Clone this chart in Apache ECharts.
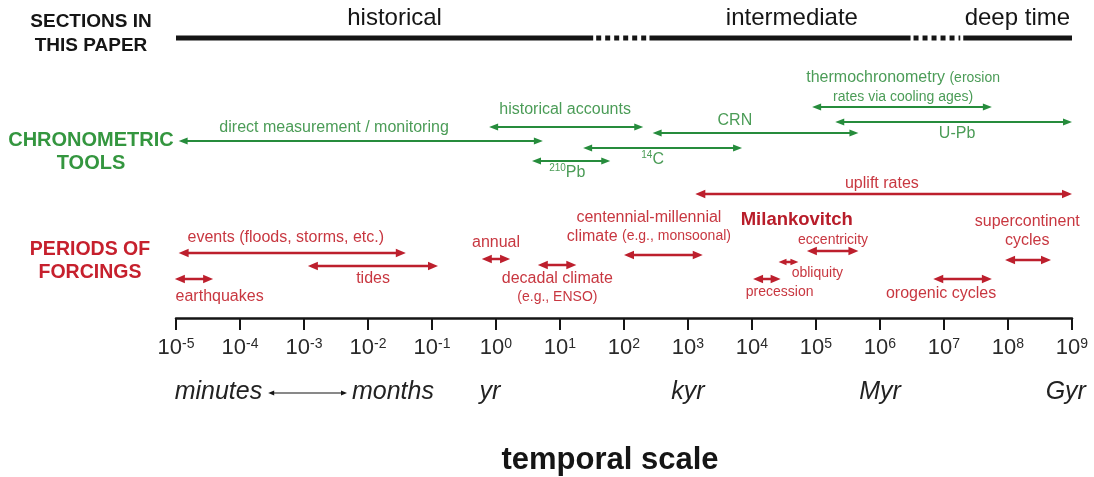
<!DOCTYPE html>
<html>
<head>
<meta charset="utf-8">
<title>temporal scale</title>
<script src="https://cdn.jsdelivr.net/npm/echarts@6.0.0/dist/echarts.min.js"></script>
<style>
  html, body { margin: 0; padding: 0; background: #fff; }
  #chart { width: 1094px; height: 477px; }
</style>
</head>
<body>
<div id="chart"></div>
<script>
// time spans in years, rows are vertical levels of the diagram (0 = top, 318 = time axis)
var sectionNames = ['historical', 'intermediate', 'deep time'];
var sectionStart = [1e-5, 250, 2e7];
var sectionEnd = [33, 3e6, 1e9];
var sectionLabelAt = [0.026, 4.2e4, 1.4e8];
var sectionGapStart = [33, 3e6];
var sectionGapEnd = [250, 2e7];
var sectionRow = 38;
var sectionLabelRow = 18;

var toolNames = ['direct measurement / monitoring', 'historical accounts', 'CRN', '{sup|14}C', '{sup|210}Pb',
  'thermochronometry {sm|(erosion}\n{sm|rates via cooling ages)}', 'U-Pb'];
var toolStart = [1.1e-5, 0.78, 280, 23, 3.65, 8.7e4, 2e5];
var toolEnd = [5.4, 200, 4.6e5, 7000, 61, 5.6e7, 1e9];
var toolRow = [141, 127, 133, 148, 161, 107, 122];
var toolLabelAt = [2.95e-3, 12, 5400, 280, 13, 2.3e6, 1.6e7];
var toolLabelRow = [128, 110, 121, 160, 173, 87.5, 134];

var forcingNames = ['uplift rates', 'events (floods, storms, etc.)', 'tides', 'earthquakes', 'annual',
  'decadal climate\n{sm|(e.g., ENSO)}', 'centennial-millennial\nclimate {sm|(e.g., monsoonal)}',
  '{sm|precession}', '{sm|obliquity}', '{sm|eccentricity}', 'orogenic cycles', 'supercontinent\ncycles'];
var forcingStart = [1300, 1.1e-5, 1.15e-3, 9.6e-6, 0.6, 4.5, 100, 1.04e4, 2.6e4, 7.2e4, 6.8e6, 9e7];
var forcingEnd = [1e9, 0.039, 0.124, 3.8e-5, 1.66, 18, 1700, 2.8e4, 5.3e4, 4.6e5, 5.6e7, 4.7e8];
var forcingRow = [194, 253, 266, 279, 259, 265, 255, 279, 262, 251, 279, 260];
var forcingLabelAt = [1.07e6, 5.2e-4, 0.012, 4.8e-5, 1, 9.1, 245, 2.7e4, 1.05e5, 1.85e5, 9e6, 2e8];
var forcingLabelRow = [184, 238, 279, 297, 243, 288, 227, 292, 273, 240, 294, 231.5];

var groupNames = ['Milankovitch'];
var groupLabelAt = [5e4];
var groupLabelRow = [220];

var unitNames = ['minutes', 'months', 'yr', 'kyr', 'Myr', 'Gyr'];
var unitAt = [4.6e-5, 0.0245, 0.8, 1000, 1e6, 8e8];
var unitRow = 392;
var unitArrow = [2.76e-4, 4.7e-3];

var axisMin = 1e-5;
var axisMax = 1e9;

(function () {
  'use strict';

  var FONT = '"Liberation Sans", Arial, Helvetica, sans-serif';
  var GREEN = '#268c3c';
  var GREEN_TXT = '#4b9c57';
  var RED = '#bd1f2d';
  var RED_TXT = '#c83740';
  var INK = '#151515';

  function arrow(p0, p1, color, width, head, half) {
    // short spans get smaller heads so both tips stay visible
    var h = Math.min(head, (p1[0] - p0[0]) * 0.4);
    var hw = half * h / head;
    return [
      { type: 'line', shape: { x1: p0[0] + h * 0.7, y1: p0[1], x2: p1[0] - h * 0.7, y2: p1[1] },
        style: { stroke: color, lineWidth: width } },
      { type: 'polygon', shape: { points: [[p0[0], p0[1]], [p0[0] + h, p0[1] - hw], [p0[0] + h, p0[1] + hw]] },
        style: { fill: color } },
      { type: 'polygon', shape: { points: [[p1[0], p1[1]], [p1[0] - h, p1[1] - hw], [p1[0] - h, p1[1] + hw]] },
        style: { fill: color } }
    ];
  }

  function richFor(color) {
    return {
      sm: { fontSize: 14, fill: color, fontFamily: FONT, lineHeight: 19 },
      sup: { fontSize: 10, fill: color, fontFamily: FONT, verticalAlign: 'top' }
    };
  }

  function spanSeries(starts, ends, rows, color, width, head, half) {
    return {
      type: 'custom',
      clip: false,
      silent: true,
      data: starts.map(function (s, i) { return [s, ends[i], rows[i]]; }),
      encode: { x: [0, 1], y: 2 },
      renderItem: function (params, api) {
        var a = api.coord([api.value(0), api.value(2)]);
        var b = api.coord([api.value(1), api.value(2)]);
        return { type: 'group', children: arrow(a, b, color, width, head, half) };
      }
    };
  }

  function labelSeries(names, at, rows, style) {
    return {
      type: 'custom',
      clip: false,
      silent: true,
      data: at.map(function (v, i) { return [v, rows[i], i]; }),
      encode: { x: 0, y: 1 },
      renderItem: function (params, api) {
        var p = api.coord([api.value(0), api.value(1)]);
        var st = Object.assign({ text: names[api.value(2)], align: 'center', verticalAlign: 'middle' }, style);
        return { type: 'text', x: p[0], y: p[1], style: st };
      }
    };
  }

  function barSeries(starts, ends, dashed) {
    return {
      type: 'custom',
      clip: false,
      silent: true,
      data: starts.map(function (s, i) { return [s, ends[i], sectionRow]; }),
      encode: { x: [0, 1], y: 2 },
      renderItem: function (params, api) {
        var a = api.coord([api.value(0), api.value(2)]);
        var b = api.coord([api.value(1), api.value(2)]);
        var pad = dashed ? 3 : 0;
        return {
          type: 'line',
          shape: { x1: a[0] + pad, y1: a[1], x2: b[0] - pad, y2: b[1] },
          style: { stroke: INK, lineWidth: 5, lineDash: dashed ? [5, 4] : null }
        };
      }
    };
  }

  var textBase = { fontFamily: FONT, fontSize: 16, lineHeight: 19 };

  var chart = echarts.init(document.getElementById('chart'), null, { renderer: 'canvas' });
  chart.setOption({
    animation: false,
    backgroundColor: '#fff',
    grid: { left: 176, right: 22, top: 0, bottom: 159, outerBoundsMode: 'none' },
    xAxis: {
      type: 'log',
      logBase: 10,
      min: axisMin,
      max: axisMax,
      interval: 1,
      position: 'bottom',
      axisLine: { show: true, onZero: false, lineStyle: { color: INK, width: 2.5 } },
      axisTick: { show: true, length: 12, lineStyle: { color: INK, width: 2 } },
      minorTick: { show: false },
      splitLine: { show: false },
      axisLabel: {
        margin: 19,
        hideOverlap: false,
        showMinLabel: true,
        showMaxLabel: true,
        formatter: function (v) {
          return '{b|10}{e|' + Math.round(Math.log(v) / Math.LN10) + '}';
        },
        rich: {
          b: { fontSize: 22, color: '#2a2a2a', fontFamily: FONT },
          e: { fontSize: 14, color: '#2a2a2a', fontFamily: FONT, verticalAlign: 'top' }
        }
      }
    },
    yAxis: { type: 'value', min: 0, max: 318, inverse: true, show: false },
    graphic: [
      { type: 'text', x: 91, y: 34, silent: true,
        style: { text: 'SECTIONS IN\nTHIS PAPER', align: 'center', verticalAlign: 'middle', lineHeight: 24,
          fontFamily: FONT, fontWeight: 'bold', fontSize: 19, fill: INK } },
      { type: 'text', x: 91, y: 151.5, silent: true,
        style: { text: 'CHRONOMETRIC\nTOOLS', align: 'center', verticalAlign: 'middle', lineHeight: 23,
          fontFamily: FONT, fontWeight: 'bold', fontSize: 20, fill: '#34963f' } },
      { type: 'text', x: 90, y: 261.5, silent: true,
        style: { text: 'PERIODS OF\nFORCINGS', align: 'center', verticalAlign: 'middle', lineHeight: 23,
          fontFamily: FONT, fontWeight: 'bold', fontSize: 19.5, fill: '#c6202d' } },
      { type: 'text', x: 610, y: 460, silent: true,
        style: { text: 'temporal scale', align: 'center', verticalAlign: 'middle',
          fontFamily: FONT, fontWeight: 'bold', fontSize: 31, fill: INK } }
    ],
    series: [
      barSeries(sectionStart, sectionEnd, false),
      barSeries(sectionGapStart, sectionGapEnd, true),
      labelSeries(sectionNames, sectionLabelAt, sectionNames.map(function () { return sectionLabelRow; }),
        { fontFamily: FONT, fontSize: 24, fill: INK }),
      spanSeries(toolStart, toolEnd, toolRow, GREEN, 2, 9, 3.5),
      labelSeries(toolNames, toolLabelAt, toolLabelRow,
        Object.assign({ fill: GREEN_TXT, rich: richFor(GREEN_TXT) }, textBase)),
      spanSeries(forcingStart, forcingEnd, forcingRow, RED, 2.5, 10, 4.2),
      labelSeries(forcingNames, forcingLabelAt, forcingLabelRow,
        Object.assign({ fill: RED_TXT, rich: richFor(RED_TXT) }, textBase)),
      labelSeries(groupNames, groupLabelAt, groupLabelRow,
        { fontFamily: FONT, fontSize: 18.5, fontWeight: 'bold', fill: '#b81d2a' }),
      spanSeries([unitArrow[0]], [unitArrow[1]], [unitRow + 1], INK, 1.2, 6, 2.5),
      labelSeries(unitNames, unitAt, unitNames.map(function () { return unitRow; }),
        { fontFamily: FONT, fontSize: 25, fontStyle: 'italic', fill: '#222' })
    ]
  });

  window.addEventListener('resize', function () { chart.resize(); });
})();
</script>
</body>
</html>
